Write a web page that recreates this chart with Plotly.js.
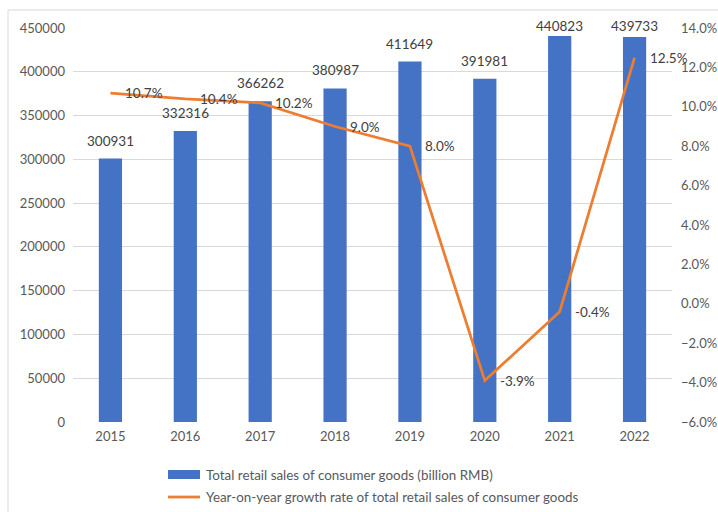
<!DOCTYPE html>
<html>
<head>
<meta charset="utf-8">
<script src="https://cdn.plot.ly/plotly-3.0.1.min.js"></script>
<style>html,body{margin:0;padding:0;background:#fff;}#chart{width:718px;height:512px;}</style>
</head>
<body>
<div id="chart"></div>
<script>
const years = ["2015","2016","2017","2018","2019","2020","2021","2022"];
const sales = [300931, 332316, 366262, 380987, 411649, 391981, 440823, 439733];
const growth = [10.7, 10.4, 10.2, 9.0, 8.0, -3.9, -0.4, 12.5];
const salesName = "Total retail sales of consumer goods (billion RMB)";
const growthName = "Year-on-year growth rate of total retail sales of consumer goods";

const FONT = "Lato, 'Liberation Sans', sans-serif";
const BLUE = "#4472C4", ORANGE = "#ED7D31";

const traces = [
  {type: "bar", x: years, y: sales, name: salesName, marker: {color: BLUE},
   width: 0.31, yaxis: "y", showlegend: false, hoverinfo: "x+y"},
  {type: "scatter", mode: "lines", x: years, y: growth, name: growthName, yaxis: "y2",
   line: {color: ORANGE, width: 2.75}, showlegend: false}
];

const annotations = [];
// bar value labels (clamped near the top like the source)
const yMax = 450000, plotH = 394;
sales.forEach((v, i) => {
  const topPx = v / yMax * plotH;
  const wantCenter = topPx + 18;
  const maxCenter = plotH + 2;
  const shift = Math.min(wantCenter, maxCenter) - topPx;
  annotations.push({x: i, y: v, xref: "x", yref: "y", text: String(v),
    showarrow: false, yanchor: "middle", yshift: shift,
    font: {family: FONT, size: 13.5, color: "#404040"}});
});
growth.forEach((g, i) => {
  annotations.push({x: i, y: g, xref: "x", yref: "y2", text: g.toFixed(1) + "%",
    showarrow: false, xanchor: "left", yanchor: "middle", xshift: 13,
    font: {family: FONT, size: 13.5, color: "#404040"}});
});
// custom legend text
annotations.push({xref: "paper", yref: "paper", x: 0.2187, y: -0.1345, xanchor: "left", yanchor: "middle",
  text: salesName, showarrow: false, font: {family: FONT, size: 13.4, color: "#595959"}});
annotations.push({xref: "paper", yref: "paper", x: 0.2187, y: -0.1904, xanchor: "left", yanchor: "middle",
  text: growthName, showarrow: false, font: {family: FONT, size: 13.4, color: "#595959"}});

const shapes = [
  {type: "rect", xref: "paper", yref: "paper", x0: -0.1085, x1: 1.2, y0: -0.3, y1: 1.0457,
   line: {color: "#D9D9D9", width: 1}, fillcolor: "rgba(0,0,0,0)", layer: "below"},
  {type: "rect", xref: "paper", yref: "paper", x0: 0.1586, x1: 0.2120, y0: -0.1447, y1: -0.1218,
   line: {width: 0}, fillcolor: BLUE},
  {type: "line", xref: "paper", yref: "paper", x0: 0.1586, x1: 0.2120, y0: -0.1904, y1: -0.1904,
   line: {color: ORANGE, width: 2.75}}
];

const layout = {
  width: 718, height: 512,
  margin: {l: 73, r: 46, t: 28, b: 90},
  paper_bgcolor: "#fff", plot_bgcolor: "#fff",
  font: {family: FONT, size: 13, color: "#595959"},
  showlegend: false,
  xaxis: {type: "category", range: [-0.5, 7.5], autorange: false, showgrid: false, showline: false,
    zeroline: false, ticks: "", ticklabelstandoff: 5, tickfont: {family: FONT, size: 13, color: "#595959"}},
  yaxis: {range: [0, 450000], dtick: 50000, tickformat: "d", showgrid: true, gridcolor: "#D9D9D9",
    gridwidth: 1, zeroline: false, showline: false, ticks: "", ticklabelstandoff: 7,
    tickfont: {family: FONT, size: 13, color: "#595959"}},
  yaxis2: {range: [-6, 14], dtick: 2, overlaying: "y", side: "right", tickformat: ".1f", ticksuffix: "%",
    showgrid: false, zeroline: false, showline: false, ticks: "", ticklabelstandoff: 8,
    tickfont: {family: FONT, size: 13, color: "#595959"}},
  annotations: annotations,
  shapes: shapes
};

Plotly.newPlot("chart", traces, layout, {displayModeBar: false, staticPlot: true});
</script>
</body>
</html>
